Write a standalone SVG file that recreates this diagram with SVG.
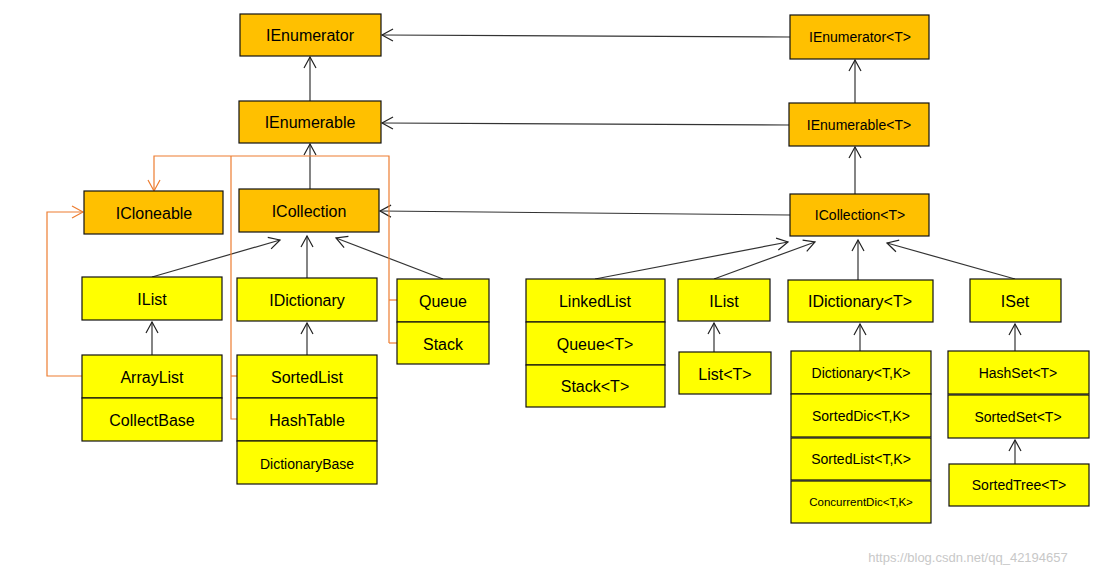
<svg xmlns="http://www.w3.org/2000/svg" width="1099" height="576" viewBox="0 0 1099 576">
<defs>
<marker id="a" markerWidth="14" markerHeight="14" refX="12" refY="7" orient="auto" markerUnits="userSpaceOnUse"><path d="M1,1 L12,7 L1,13" fill="none" stroke="#222" stroke-width="1.2"/></marker>
<marker id="o" markerWidth="14" markerHeight="14" refX="12" refY="7" orient="auto" markerUnits="userSpaceOnUse"><path d="M1,1 L12,7 L1,13" fill="none" stroke="#ED7D31" stroke-width="1.2"/></marker>
</defs>
<style>
.or{fill:#FFC000;stroke:#111;stroke-width:1.2}
.ye{fill:#FFFF00;stroke:#111;stroke-width:1.2}
text{font-family:"Liberation Sans","Open Sans",sans-serif;font-size:16px;fill:#000;text-anchor:middle;dominant-baseline:central}
.s{font-size:14px}.xs{font-size:11.5px}
.c line,.c polyline{fill:none;stroke:#333;stroke-width:1.2;marker-end:url(#a)}
.c .og{stroke:#ED7D31;marker-end:none}
</style>
<rect width="1099" height="576" fill="#fff"/>
<g class="c" id="connectors">
<line x1="310" y1="101" x2="310" y2="57"/>
<line x1="310" y1="189" x2="310" y2="144"/>
<line x1="790" y1="37" x2="382" y2="35"/>
<line x1="789" y1="125" x2="382" y2="123"/>
<line x1="790" y1="215" x2="380" y2="211"/>
<line x1="855" y1="103" x2="855" y2="60"/>
<line x1="855" y1="194" x2="855" y2="147"/>
<line x1="152" y1="277" x2="280" y2="240"/>
<line x1="307" y1="278" x2="307" y2="236"/>
<line x1="443" y1="279" x2="336" y2="238"/>
<line x1="152" y1="355" x2="152" y2="322"/>
<line x1="307" y1="356" x2="307" y2="323"/>
<line x1="595" y1="279" x2="788" y2="242"/>
<line x1="714" y1="279" x2="815" y2="242"/>
<line x1="858" y1="280" x2="858" y2="240"/>
<line x1="1015" y1="279" x2="887" y2="243"/>
<line x1="714" y1="352" x2="714" y2="323"/>
<line x1="860" y1="351" x2="860" y2="324"/>
<line x1="1015" y1="351" x2="1015" y2="324"/>
<line x1="1015" y1="464" x2="1015" y2="440"/>
<polyline class="og" points="389,343 389,156 154,156 154,191" style="marker-end:url(#o)"/>
<polyline class="og" points="231,156 231,419 237,419"/>
<line class="og" x1="231" y1="376" x2="237" y2="376"/>
<line class="og" x1="389" y1="300" x2="397" y2="300"/>
<line class="og" x1="389" y1="343" x2="397" y2="343"/>
<polyline class="og" points="82,376 47,376 47,212 83,212" style="marker-end:url(#o)"/>
</g>
<g id="IEnumerator"><rect class="or" x="240" y="14" width="141" height="42"/><text x="310" y="35">IEnumerator</text></g>
<g id="IEnumerable"><rect class="or" x="239" y="101" width="142" height="42"/><text x="310" y="122">IEnumerable</text></g>
<g id="ICloneable"><rect class="or" x="84" y="191" width="139" height="43"/><text x="154" y="213">ICloneable</text></g>
<g id="ICollection"><rect class="or" x="239" y="189" width="140" height="43"/><text x="309" y="211">ICollection</text></g>
<g id="IEnumeratorT"><rect class="or" x="790" y="15" width="139" height="44"/><text class="s" x="860" y="37">IEnumerator&lt;T&gt;</text></g>
<g id="IEnumerableT"><rect class="or" x="789" y="103" width="140" height="43"/><text class="s" x="859" y="125">IEnumerable&lt;T&gt;</text></g>
<g id="ICollectionT"><rect class="or" x="790" y="194" width="139" height="42"/><text class="s" x="860" y="215">ICollection&lt;T&gt;</text></g>
<g id="IList"><rect class="ye" x="82" y="277" width="140" height="43"/><text x="152" y="299">IList</text></g>
<g id="ArrayList"><rect class="ye" x="82" y="355" width="140" height="43"/><text x="152" y="377">ArrayList</text></g>
<g id="CollectBase"><rect class="ye" x="82" y="398" width="140" height="43"/><text x="152" y="420">CollectBase</text></g>
<g id="IDictionary"><rect class="ye" x="237" y="278" width="140" height="43"/><text x="307" y="300">IDictionary</text></g>
<g id="SortedList"><rect class="ye" x="237" y="355" width="140" height="43"/><text x="307" y="377">SortedList</text></g>
<g id="HashTable"><rect class="ye" x="237" y="398" width="140" height="43"/><text x="307" y="420">HashTable</text></g>
<g id="DictionaryBase"><rect class="ye" x="237" y="441" width="140" height="43"/><text class="s" x="307" y="464">DictionaryBase</text></g>
<g id="Queue"><rect class="ye" x="397" y="279" width="92" height="43"/><text x="443" y="301">Queue</text></g>
<g id="Stack"><rect class="ye" x="397" y="322" width="92" height="42"/><text x="443" y="344">Stack</text></g>
<g id="LinkedList"><rect class="ye" x="526" y="279" width="139" height="43"/><text x="595" y="301">LinkedList</text></g>
<g id="QueueT"><rect class="ye" x="526" y="322" width="139" height="43"/><text x="595" y="344">Queue&lt;T&gt;</text></g>
<g id="StackT"><rect class="ye" x="526" y="365" width="139" height="42"/><text x="595" y="386">Stack&lt;T&gt;</text></g>
<g id="IListT"><rect class="ye" x="678" y="279" width="92" height="42"/><text x="724" y="301">IList</text></g>
<g id="ListT"><rect class="ye" x="679" y="352" width="92" height="42"/><text x="725" y="374">List&lt;T&gt;</text></g>
<g id="IDictionaryT"><rect class="ye" x="788" y="280" width="145" height="42"/><text x="860" y="301">IDictionary&lt;T&gt;</text></g>
<g id="DictionaryTK"><rect class="ye" x="791" y="351" width="140" height="43"/><text class="s" x="861" y="373">Dictionary&lt;T,K&gt;</text></g>
<g id="SortedDicTK"><rect class="ye" x="791" y="394" width="140" height="43"/><text class="s" x="861" y="416">SortedDic&lt;T,K&gt;</text></g>
<g id="SortedListTK"><rect class="ye" x="791" y="438" width="140" height="42"/><text class="s" x="861" y="459">SortedList&lt;T,K&gt;</text></g>
<g id="ConcurrentDicTK"><rect class="ye" x="791" y="481" width="140" height="42"/><text class="xs" x="861" y="502">ConcurrentDic&lt;T,K&gt;</text></g>
<g id="ISet"><rect class="ye" x="970" y="279" width="91" height="43"/><text x="1015" y="301">ISet</text></g>
<g id="HashSetT"><rect class="ye" x="948" y="351" width="141" height="43"/><text class="s" x="1018" y="373">HashSet&lt;T&gt;</text></g>
<g id="SortedSetT"><rect class="ye" x="948" y="395" width="141" height="43"/><text class="s" x="1018" y="417">SortedSet&lt;T&gt;</text></g>
<g id="SortedTreeT"><rect class="ye" x="949" y="464" width="140" height="42"/><text class="s" x="1019" y="485">SortedTree&lt;T&gt;</text></g>
<text x="968" y="557" style="font-size:13px;fill:#c8c8c8">https://blog.csdn.net/qq_42194657</text>
</svg>
